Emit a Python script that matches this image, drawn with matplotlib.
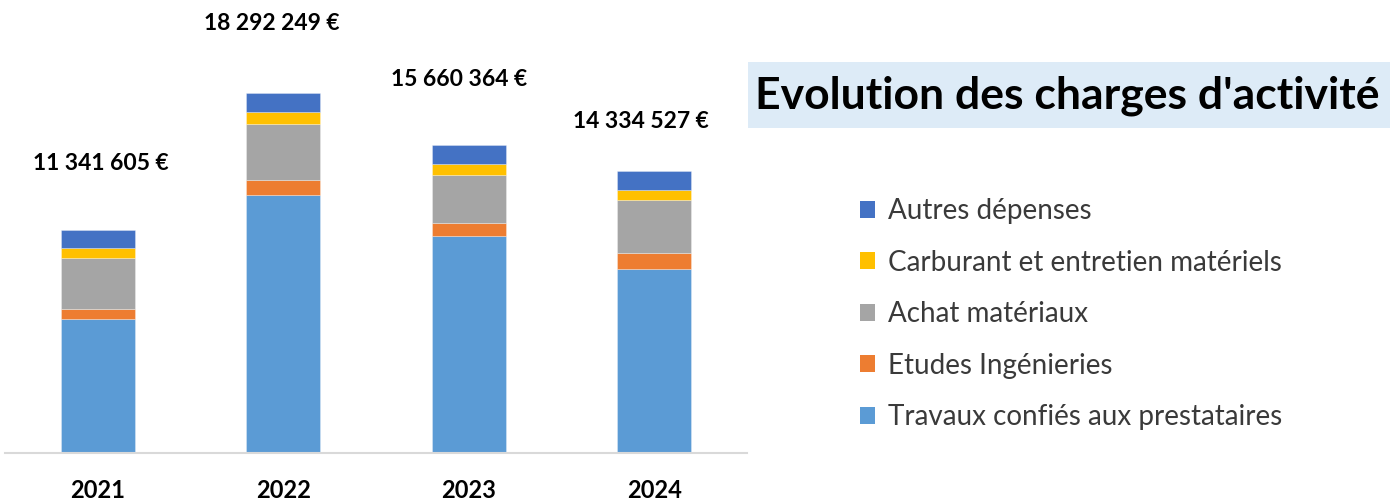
import matplotlib
matplotlib.use("Agg")
import matplotlib.pyplot as plt
from matplotlib.patches import Patch, Rectangle
import numpy as np

years = ["2021", "2022", "2023", "2024"]
series_names = ["Travaux confiés aux prestataires", "Etudes Ingénieries",
                "Achat matériaux", "Carburant et entretien matériels", "Autres dépenses"]
travaux = [6816000, 13140000, 11040000, 9350000]
etudes = [524000, 747000, 645000, 793000]
achat = [2579000, 2862000, 2440000, 2730000]
carburant = [509000, 595000, 574000, 508000]
autres = [914000, 948000, 961000, 953000]
totals = [11341605, 18292249, 15660364, 14334527]
total_labels = ["11 341 605 €", "18 292 249 €", "15 660 364 €", "14 334 527 €"]

colors = ["#5B9BD5", "#ED7D31", "#A5A5A5", "#FFC000", "#4472C4"]
label_offsets_px = [(3, 66), (-12, 70), (-10, 65), (-13, 50)]

plt.rcParams['font.family'] = ['Lato', 'DejaVu Sans']

W, H = 1400, 504
fig = plt.figure(figsize=(W / 100, H / 100), dpi=100)
ax = fig.add_axes([5 / W, 51 / H, 742 / W, 453 / H])

x = np.arange(len(years))
bottom = np.zeros(len(years))
handles = []
for name, vals, c in zip(series_names, [travaux, etudes, achat, carburant, autres], colors):
    ax.bar(x, vals, width=0.4, bottom=bottom, color=c, edgecolor=(1, 1, 1, 0.35), linewidth=0.6)
    bottom += np.array(vals)
    handles.append(Patch(facecolor=c, edgecolor='none', label=name))

ax.set_xlim(-0.5, 3.5)
ax.set_ylim(0, 453 / 19.67 * 1e6)
for s in ["top", "left", "right"]:
    ax.spines[s].set_visible(False)
ax.spines["bottom"].set_color("#d9d9d9")
ax.spines["bottom"].set_linewidth(1.5)
ax.set_yticks([])
ax.set_xticks(x)
ax.set_xticklabels(years, fontsize=17, fontweight='bold', color='black')
ax.tick_params(axis='x', length=0, pad=19)

for i, (t, lab) in enumerate(zip(totals, total_labels)):
    dx, dy = label_offsets_px[i]
    ax.annotate(lab, xy=(i, t), xytext=(dx, dy), textcoords='offset pixels',
                ha='center', va='center', fontsize=16.5, fontweight='bold', color='black')

# Title with light blue background
fig.patches.append(Rectangle((748 / W, 1 - 128 / H), 642 / W, 66 / H,
                             transform=fig.transFigure, facecolor='#DDEBF7',
                             edgecolor='none', zorder=0))
fig.text(1067 / W, 1 - 96 / H, "Evolution des charges d'activité", ha='center', va='center',
         fontsize=32, fontweight='bold', color='black')

fig.legend(handles=handles[::-1], loc='upper left', bbox_to_anchor=(860 / W, 1 - 198 / H),
           frameon=False, fontsize=20, handlelength=0.55, handleheight=0.55,
           handletextpad=0.45, labelspacing=0.92, borderpad=0, borderaxespad=0,
           labelcolor='#3a3a3a')

fig.savefig("out.png", dpi=100)
